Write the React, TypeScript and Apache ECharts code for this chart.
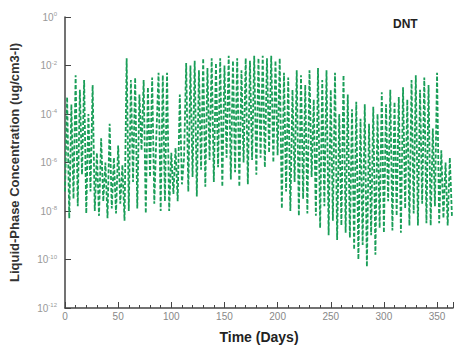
import React, { useEffect, useRef } from "react";
import * as echarts from "echarts";

// log10 of liquid-phase concentration, one value every 2 days
const q1Start = 0;
const q1Log = [
  -7.2, -3.3, -8.3, -3.6, -7.5,
  -2.4, -7.8, -3.0, -6.5, -2.6, -8.1, -4.0, -7.2, -2.8, -8.0,
  -5.6, -8.2, -5.0, -7.6, -6.0, -8.3, -4.4, -7.9, -5.8, -8.1, -5.3, -7.7, -6.1, -8.4,
  -1.7,
  -8.0, -2.6, -6.8, -2.5, -7.9, -3.2, -5.5, -2.6, -8.1, -2.9, -6.6, -2.5, -7.7, -4.8, -2.3, -8.0,
];
const q2Start = 92;
const q2Log = [
  -2.4, -7.6, -2.3, -8.0, -5.6, -7.3, -5.4, -7.6, -3.2, -6.9, -5.8, -1.9,
  -7.2, -2.0, -6.6, -1.8, -7.4, -2.2, -6.3, -1.7, -7.0, -2.1, -5.9, -1.7,
  -6.8, -1.9, -6.2, -1.7, -7.0, -2.0, -5.8, -1.6, -6.7, -1.8, -6.4, -1.7,
  -7.0, -2.2, -6.0, -1.7, -6.9, -1.8, -5.9, -1.6, -6.5, -1.7,
];
const q3Start = 184;
const q3Log = [
  -5.8, -1.6, -6.2, -1.7, -5.6, -1.6, -6.0, -1.8, -5.7, -1.7,
  -7.9, -2.3, -7.2, -2.5, -8.0, -3.0, -6.8, -2.2, -8.2, -2.4, -7.5, -2.8,
  -8.1, -2.2, -6.6, -3.4, -8.2, -2.1, -8.7, -2.6, -7.8, -2.2, -9.0, -3.0,
  -8.4, -2.3, -9.2, -4.0, -8.6, -2.4, -8.9, -3.2, -9.1, -3.8, -9.6,
];
const q4Start = 274;
const q4Log = [
  -3.5, -10.0, -4.2, -9.4, -3.6, -10.3, -4.4, -9.0, -3.7, -9.8, -4.0, -8.7,
  -3.1, -8.9, -3.6, -7.6, -3.0, -8.8, -3.5, -8.2, -3.3, -8.9, -2.9, -7.9,
  -3.4, -8.6, -2.6, -8.1, -2.4, -8.6, -3.0, -7.7, -2.5, -8.5, -2.8, -8.6,
  -4.6, -7.8, -2.3, -8.5, -5.5, -8.3, -6.0, -8.6, -5.8, -8.2,
];

const xMin = 0;
const xMax = 365;
const xInterval = 50;
const yMinExp = -12;
const yMaxExp = 0;
const yInterval = 2;

const toPairs = (start: number, arr: number[]) => arr.map((v, i) => [start + 2 * i, v]);

export default function App() {
  const ref = useRef<HTMLDivElement>(null);
  useEffect(() => {
    if (!ref.current) return;
    const chart = echarts.init(ref.current, null, { renderer: "svg" });
    const data = [
      ...toPairs(q1Start, q1Log),
      ...toPairs(q2Start, q2Log),
      ...toPairs(q3Start, q3Log),
      ...toPairs(q4Start, q4Log),
    ];
    const axisColor = "#444";
    const font = "'Liberation Sans', Arial";
    chart.setOption({
      animation: false,
      backgroundColor: "#fff",
      grid: { left: 63, right: 1, top: 17, bottom: 40 },
      graphic: [
        {
          type: "text",
          left: 393,
          top: 18,
          style: { text: "DNT", font: "bold 12px 'Liberation Sans', Arial", fill: "#222" },
        },
      ],
      xAxis: {
        type: "value",
        min: xMin,
        max: xMax,
        interval: xInterval,
        name: "Time (Days)",
        nameLocation: "middle",
        nameGap: 22,
        nameTextStyle: { fontFamily: font, fontWeight: "bold", fontSize: 14, color: "#222" },
        axisLine: { onZero: false, lineStyle: { color: axisColor, width: 1.5 } },
        axisTick: { inside: true, length: 6, lineStyle: { color: axisColor } },
        minorTick: { show: true, splitNumber: 5, length: 3, lineStyle: { color: axisColor } },
        splitLine: { show: false },
        axisLabel: { color: "#888", fontSize: 10, fontFamily: font, margin: 3, showMaxLabel: false },
      },
      yAxis: {
        type: "value",
        min: yMinExp,
        max: yMaxExp,
        interval: yInterval,
        name: "Liquid-Phase Concentration (ug/cm3-l)",
        nameLocation: "middle",
        nameGap: 44,
        nameTextStyle: { fontFamily: font, fontWeight: "bold", fontSize: 13, color: "#333" },
        axisLine: { show: true, onZero: false, lineStyle: { color: axisColor, width: 1.5 } },
        axisTick: { show: true, inside: true, length: 6, lineStyle: { color: axisColor } },
        splitLine: { show: false },
        axisLabel: {
          margin: 8,
          formatter: (v: number) => `{b|10}{s|${v}}`,
          rich: {
            b: { fontSize: 10, color: "#999", fontFamily: font },
            s: { fontSize: 6, color: "#999", fontFamily: font, padding: [0, 0, 6, 0] },
          },
        },
      },
      series: [
        {
          type: "line",
          data,
          showSymbol: false,
          symbol: "none",
          lineStyle: { color: "#1a9e58", width: 1.8, type: [4, 2] },
        },
      ],
    });
    return () => chart.dispose();
  }, []);
  return <div ref={ref} style={{ width: 454, height: 349, position: "absolute", left: 0, top: 0 }} />;
}
